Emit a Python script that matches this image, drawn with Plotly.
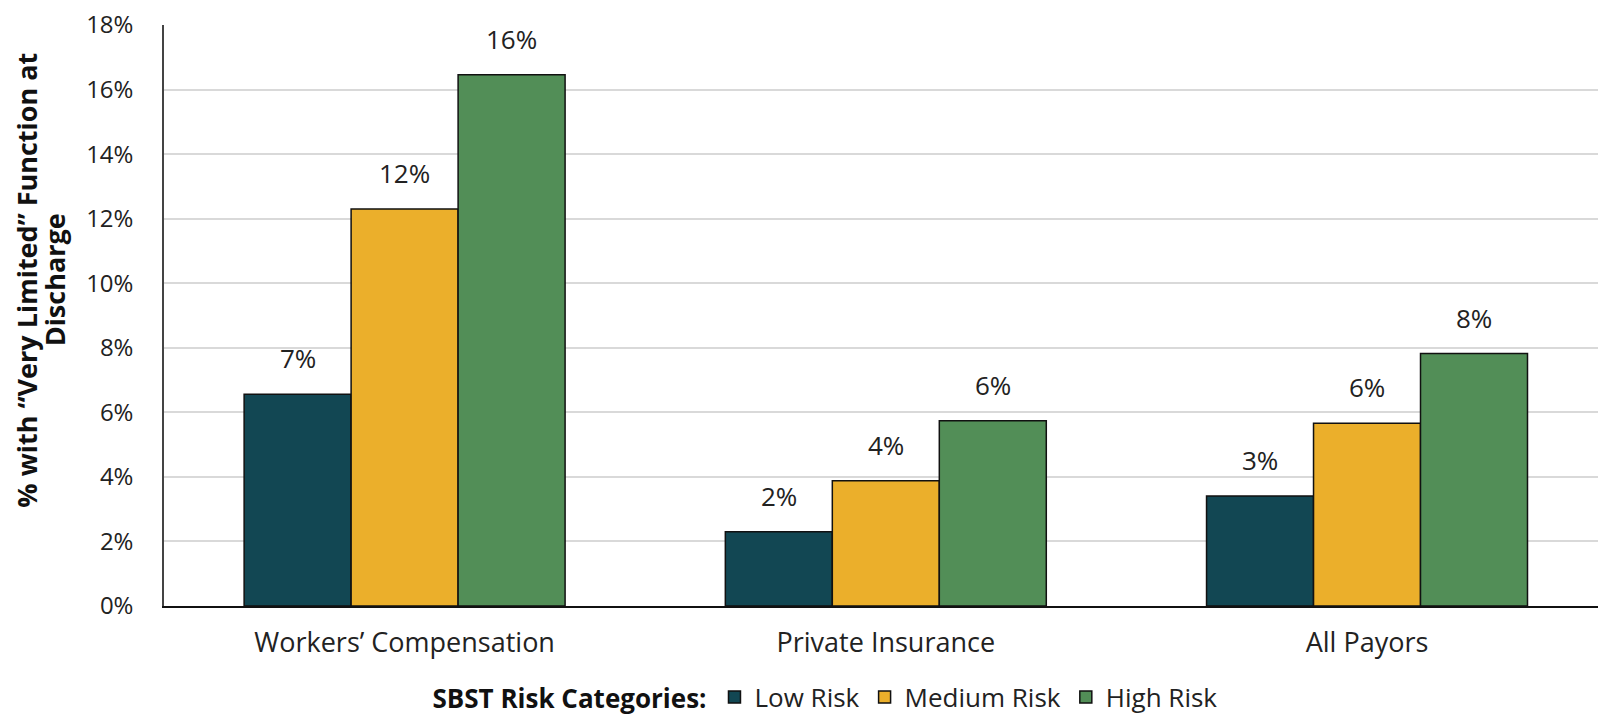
import plotly.graph_objects as go

categories = ["Workers’ Compensation", "Private Insurance", "All Payors"]
series_names = ["Low Risk", "Medium Risk", "High Risk"]
low_risk = [0.0656, 0.0230, 0.0341]
medium_risk = [0.1230, 0.0388, 0.0566]
high_risk = [0.1646, 0.0574, 0.0782]
y_ticks = [0, 0.02, 0.04, 0.06, 0.08, 0.10, 0.12, 0.14, 0.16, 0.18]
y_title_lines = ["% with “Very Limited” Function at", "Discharge"]

colors = ["#124753", "#EBAF2B", "#528E57"]
FONT = "Open Sans"
bargap = 0.333

fig = go.Figure()
xs = list(range(len(categories)))
all_series = [low_risk, medium_risk, high_risk]
for name, vals, col in zip(series_names, all_series, colors):
    fig.add_trace(go.Bar(
        x=xs, y=vals, name=name,
        marker=dict(color=col, line=dict(color="#111111", width=1.5)),
    ))

# value labels above bars
n = len(all_series)
bw = (1 - bargap) / n
for i, vals in enumerate(all_series):
    off = (i - (n - 1) / 2) * bw
    for j, v in enumerate(vals):
        fig.add_annotation(
            x=j + off, y=v, xref="x", yref="y",
            text=f"{round(v * 100):.0f}%", showarrow=False,
            yanchor="bottom", yshift=16,
            font=dict(family=FONT, size=26, color="#222222"),
        )

# two-line bold y-axis title
for k, (line, xpos) in enumerate(zip(y_title_lines, [-0.0965, -0.0765])):
    fig.add_annotation(
        x=xpos, y=0.561, xref="paper", yref="paper",
        text=f"<b>{line}</b>", textangle=-90, showarrow=False,
        xanchor="center", yanchor="middle",
        font=dict(family=FONT, size=27, color="#111111"),
    )

fig.update_layout(
    width=1598, height=717,
    margin=dict(l=164, r=0, t=25, b=111, autoexpand=False),
    paper_bgcolor="white", plot_bgcolor="white",
    barmode="group", bargap=bargap, bargroupgap=0,
    font=dict(family=FONT, size=26, color="#222222"),
    showlegend=True,
    legend=dict(
        orientation="h", x=0.462, xanchor="center", y=-0.157, yanchor="middle",
        title=dict(text="<b>SBST Risk Categories:</b>", side="left",
                   font=dict(family=FONT, size=26, color="#111111")),
        font=dict(family=FONT, size=26, color="#222222"),
        itemwidth=30, traceorder="normal",
    ),
    xaxis=dict(
        range=[-0.5, 2.48], tickvals=xs, ticktext=categories,
        showgrid=False, showline=True, linecolor="#111111", linewidth=1.5,
        ticks="", ticklabelstandoff=12, zeroline=False,
        tickfont=dict(family=FONT, size=27, color="#222222"),
    ),
    yaxis=dict(
        range=[0, 0.18], tickvals=y_ticks, tickformat=".0%",
        showgrid=True, gridcolor="#d9d9d9", gridwidth=2,
        showline=True, linecolor="#444444", linewidth=1.5,
        ticks="", ticklabelstandoff=24, zeroline=False,
        tickfont=dict(family=FONT, size=24, color="#222222"),
    ),
)

fig.write_html("out.html")
